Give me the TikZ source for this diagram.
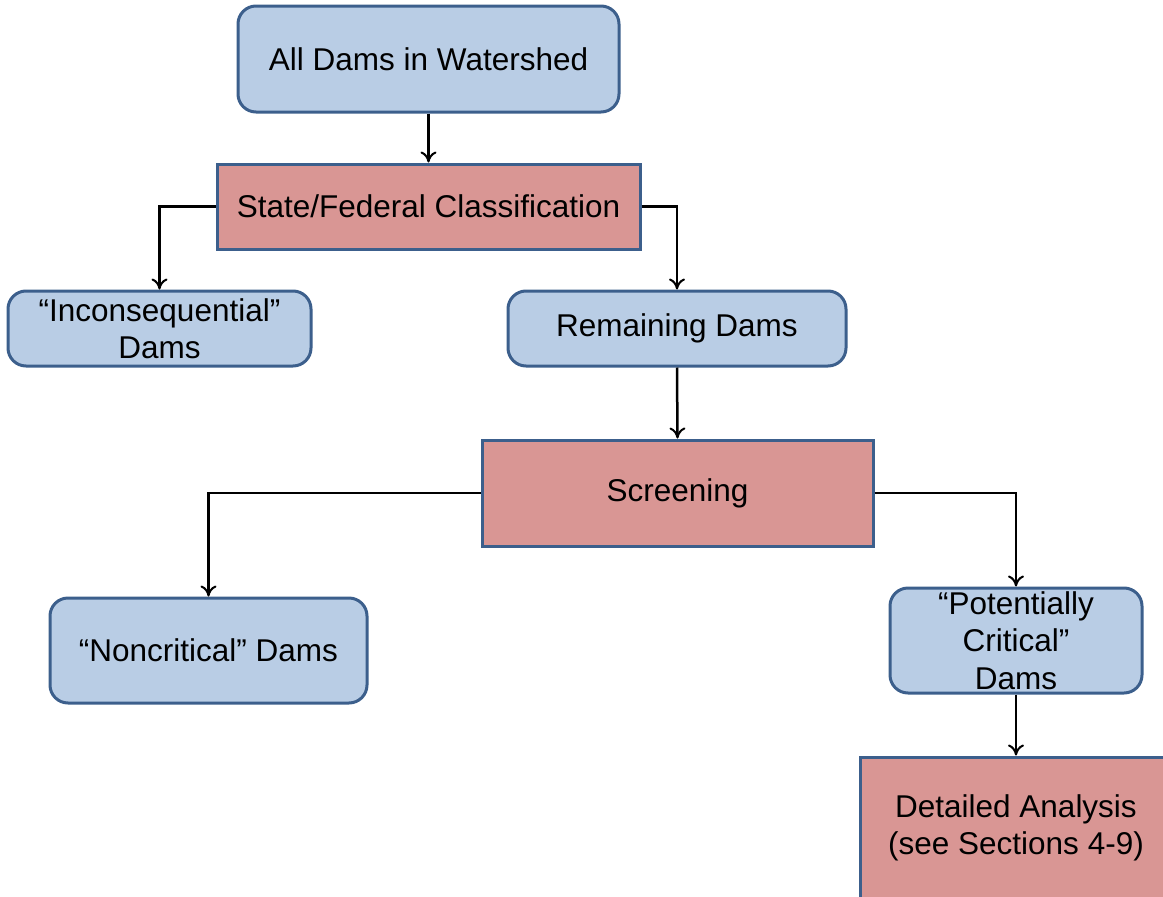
\documentclass[tikz,border=0pt]{standalone}
\usepackage{fontspec}
\setmainfont{Liberation Sans}
\usetikzlibrary{arrows.meta}
\definecolor{bfill}{HTML}{B9CDE5}
\definecolor{rfill}{HTML}{D99694}
\definecolor{bline}{HTML}{3C5F8C}
\begin{document}
\begin{tikzpicture}[x=1pt,y=-1pt,
  box/.style={draw=bline,line width=3pt,inner sep=0pt,align=center,
    font=\fontsize{31.5}{37.5}\selectfont},
  bluebox/.style={box,fill=bfill,rounded corners=18pt},
  redbox/.style={box,fill=rfill},
  conn/.style={draw=black,line width=2.5pt,-{To[length=11pt,width=16pt,line width=2pt]}}]
\useasboundingbox (0,0) rectangle (1163,897);
\clip (0,0) rectangle (1163,897);
\node[bluebox,minimum width=381pt,minimum height=106pt] (all) at (428.5,59) {All Dams in Watershed};
\node[redbox,minimum width=423pt,minimum height=85pt] (state) at (428.5,206.5) {State/Federal Classification};
\node[bluebox,minimum width=303pt,minimum height=75pt] (incon) at (159.5,328.5) {``Inconsequential''\\Dams};
\node[bluebox,minimum width=338pt,minimum height=75pt] (remain) at (677,328.5) {Remaining Dams};
\node[redbox,minimum width=391pt,minimum height=106pt] (screen) at (677.5,493) {Screening};
\node[bluebox,minimum width=317pt,minimum height=105pt] (noncrit) at (208.5,650.5) {``Noncritical'' Dams};
\node[bluebox,minimum width=252pt,minimum height=105pt] (potential) at (1016,640.5) {``Potentially\\Critical''\\Dams};
\node[redbox,minimum width=312pt,minimum height=142pt] (detail) at (1016,828) {Detailed Analysis\\(see Sections 4-9)};
\draw[conn] (all.south) -- (state.north);
\draw[conn] (state.west) -| (incon.north);
\draw[conn] (state.east) -| (remain.north);
\draw[conn] (remain.south) -- (screen.north);
\draw[conn] (screen.west) -| (noncrit.north);
\draw[conn] (screen.east) -| (potential.north);
\draw[conn] (potential.south) -- (detail.north);
\end{tikzpicture}
\end{document}
